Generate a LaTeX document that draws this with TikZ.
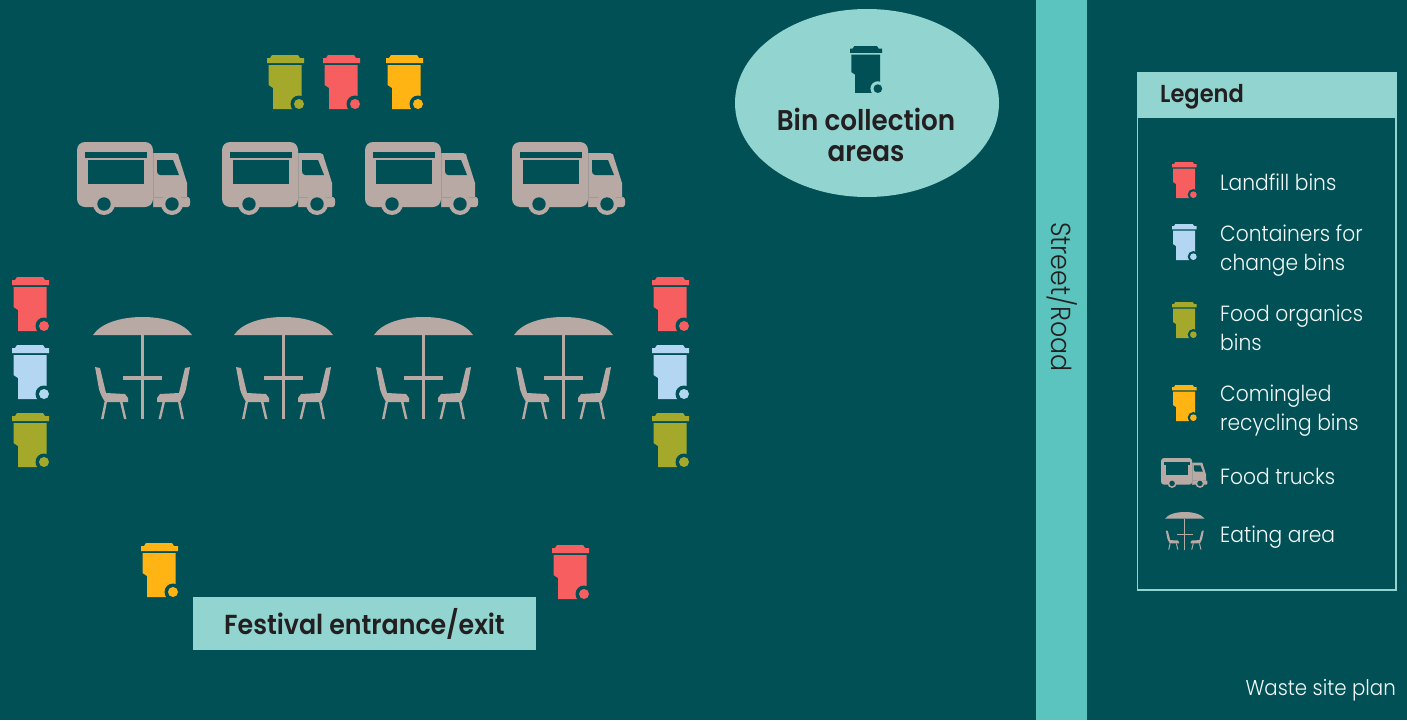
\documentclass[tikz,border=0pt]{standalone}
\usepackage{fontspec}
\setmainfont{Poppins}[UprightFont=* Light, BoldFont=* SemiBold, FakeStretch=0.92]
\definecolor{siteteal}{HTML}{005056}
\definecolor{paleteal}{HTML}{92D4CF}
\definecolor{roadteal}{HTML}{5BC4BE}
\definecolor{inkdark}{HTML}{231F20}
\definecolor{binred}{HTML}{F65E5F}
\definecolor{binblue}{HTML}{B3D7F2}
\definecolor{binolive}{HTML}{A5A92B}
\definecolor{binyellow}{HTML}{FFB414}
\definecolor{icontan}{HTML}{B8A9A4}
\definecolor{iconline}{HTML}{9E9A96}
\tikzset{
    legendtext/.style={anchor=west, align=left, inner sep=0pt, text=white!90!paleteal, font=\fontsize{22}{29}\selectfont},
    signtext/.style={text=inkdark, align=center, inner sep=0pt, font=\fontsize{27.5}{31}\selectfont\bfseries},
    pics/wastebin/.style n args={2}{code={
        \fill[#1] (5,0) -- (31,0) -- (33,3) -- (37,3) -- (37,8) -- (0,8) -- (0,3) -- (3,3) -- cycle;
        \fill[#1] (1.5,10) -- (34.5,10) -- (34.5,46) -- (26,54) -- (6,54) -- (6,33) -- (1.5,30) -- cycle;
        \fill[#2] (32,49) circle (8.5);
        \fill[#1] (32,49) circle (5);
    }},
    pics/foodtruck/.style={code={
        \fill[icontan, rounded corners=#1] (0,0) -- (76,0) -- (76,65) -- (0,65) -- cycle;
        \fill[icontan] (76,11) -- (98,11) .. controls (101,11) and (102,13) .. (102,16) -- (104,22)
            -- (110,41) -- (110,55) -- (111,55) .. controls (114,55) and (114,65) .. (111,65) -- (76,65) -- cycle;
        \fill[siteteal] (8,10) rectangle (70,16);
        \fill[siteteal] (11,18) rectangle (67,42);
        \fill[siteteal] (80,18) -- (96,18) -- (102,33) -- (83,33) .. controls (81,33) and (80,31) .. (80,29) -- cycle;
        \draw[iconline, line width=.6pt] (76,11) -- (76,65) (76,55) -- (110,55);
        \foreach \wheelx in {27,95} {
            \fill[icontan] (\wheelx,62) circle (11);
            \fill[siteteal] (\wheelx,62) circle (6.7);
        }
    }},
    pics/eatingarea/.style={code={
        \fill[icontan] (0,18) .. controls (8,6) and (28,0) .. (49.5,0) .. controls (71,0) and (91,6) .. (99,18) -- cycle;
        \fill[icontan] (48,18) rectangle (51,102);
        \fill[icontan] (30,59) rectangle (69,63);
        \foreach \side/\mx in {1/0, -1/99} {
            \begin{scope}[shift={(\mx,0)}, xscale=\side]
                \fill[icontan] (2,50) -- (7,51) -- (13,76) -- (32,77) -- (35,81) -- (35,85) -- (12,85)
                    .. controls (9,80) and (7,76) .. (6,72) -- cycle;
                \fill[icontan] (11.5,85) -- (14,85) -- (10.5,102) -- (8,102) -- cycle;
                \fill[icontan] (27,85) -- (29.5,85) -- (33.5,102) -- (31,102) -- cycle;
            \end{scope}
        }
    }}
}
\begin{document}
\begin{tikzpicture}[x=1pt, y=-1pt]
    \useasboundingbox (0,0) rectangle (1407,720);
    \fill[siteteal] (0,0) rectangle (1407,720);

    % road
    \fill[roadteal] (1036,0) rectangle (1087,720);
    \node[rotate=-90, inner sep=0pt, text=inkdark, font=\fontsize{27.5}{29}\selectfont] (roadlabel) at (1062,297) {Street/Road};

    % collection area
    \fill[paleteal] (867,103) ellipse [x radius=132, y radius=94];
    \pic[scale=.87] at (850,46) {wastebin={siteteal}{paleteal}};
    \node[signtext, font=\fontsize{28.5}{31}\selectfont\bfseries] (binarea) at (866,134.5) {Bin collection\\areas};

    % bins
    \foreach \bx/\by/\bcol in {267/55/binolive, 323/55/binred, 386/55/binyellow,
        12/277/binred, 12/345/binblue, 12/413/binolive,
        652/277/binred, 652/345/binblue, 652/413/binolive,
        141/543/binyellow, 552/545/binred} {
        \pic at (\bx,\by) {wastebin={\bcol}{siteteal}};
    }

    % trucks and tables
    \foreach \tx in {77,222,365,512} {
        \pic at (\tx,142) {foodtruck=8pt};
    }
    \foreach \tx in {93,234,374,514} {
        \pic at (\tx,317) {eatingarea};
    }

    % entrance
    \node[fill=paleteal, minimum width=343pt, minimum height=53pt, signtext] (entrance) at (364.5,623.5) {Festival entrance/exit};

    % legend
    \draw[paleteal, line width=1.5pt] (1137.5,117) rectangle (1396,590);
    \fill[paleteal] (1137,72) rectangle (1397,117);
    \node[anchor=west, inner sep=0pt, text=inkdark, font=\fontsize{24.5}{27}\selectfont\bfseries] (legendhead) at (1160,97) {Legend};

    \foreach \ly/\lcol in {162/binred, 224/binblue, 302/binolive, 385/binyellow} {
        \pic[scale=.667] at (1172,\ly) {wastebin={\lcol}{siteteal}};
    }
    \pic[scale=.41] at (1161,458) {foodtruck=3pt};
    \pic[xscale=.4, yscale=.37] at (1165,512) {eatingarea};

    \node[legendtext] (landfill) at (1220,182) {Landfill bins};
    \node[legendtext] (change) at (1220,250.5) {Containers for\\change bins};
    \node[legendtext] (organics) at (1220,327.5) {Food organics\\bins};
    \node[legendtext] (comingled) at (1220,411) {Comingled\\recycling bins};
    \node[legendtext] (trucks) at (1220,476) {Food trucks};
    \node[legendtext] (eating) at (1220,537) {Eating area};

    \node[anchor=east, inner sep=0pt, text=white!90!paleteal, font=\fontsize{21.5}{24}\selectfont] (caption) at (1396,690) {Waste site plan};
\end{tikzpicture}
\end{document}
